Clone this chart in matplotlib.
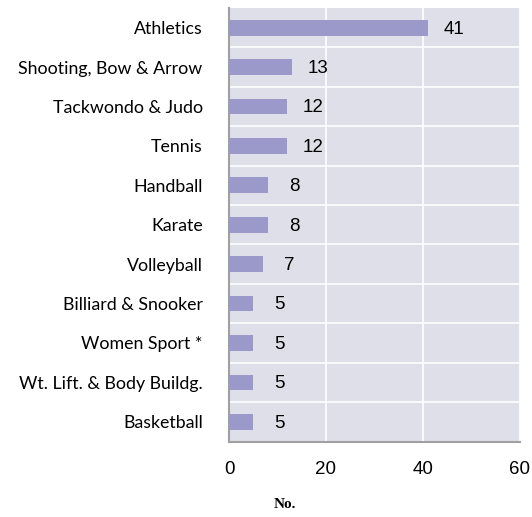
import matplotlib.pyplot as plt

sports = ['Athletics', 'Shooting, Bow & Arrow', 'Tackwondo & Judo', 'Tennis',
          'Handball', 'Karate', 'Volleyball', 'Billiard & Snooker',
          'Women Sport *', 'Wt. Lift. & Body Buildg.', 'Basketball']
counts = [41, 13, 12, 12, 8, 8, 7, 5, 5, 5, 5]
xticks = [0, 20, 40, 60]

fig = plt.figure(figsize=(5.32, 5.17), dpi=100)
ax = fig.add_axes([0.4305, 0.146, 0.5465, 0.8385])
ax.set_facecolor('#dfdfe9')

y = list(range(len(sports)))[::-1]
ax.barh(y, counts, height=0.4, color='#9a99c9', zorder=3)

for yi, c in zip(y, counts):
    ax.annotate(str(c), (c, yi), xytext=(19, -1), textcoords='offset points',
                ha='center', va='center', fontsize=13.5, family='Liberation Sans')

ax.set_xlim(0, 60)
ax.set_ylim(-0.5, len(sports) - 0.5)
ax.set_xticks(xticks)
ax.set_xticklabels([str(t) for t in xticks], fontsize=13.5, family='Liberation Sans')
ax.set_yticks(y)
ax.set_yticklabels(sports, fontsize=12.8, family='Lato')
ax.set_yticks([i + 0.5 for i in range(len(sports) - 1)], minor=True)
ax.tick_params(axis='both', length=0, which='both')
ax.tick_params(axis='y', pad=19)
ax.tick_params(axis='x', pad=14)

ax.grid(axis='x', color='white', lw=1.2, zorder=1)
ax.grid(axis='y', which='minor', color='white', lw=1.2, zorder=1)
ax.grid(axis='y', which='major', visible=False)

for s in ['top', 'right']:
    ax.spines[s].set_visible(False)
for s in ['left', 'bottom']:
    ax.spines[s].set_color('#a0a0a0')
    ax.spines[s].set_linewidth(1.5)

fig.text(285 / 532, 1 - 505 / 517, 'No.', ha='center', va='center',
         fontsize=11, fontweight='bold', family='Liberation Serif')

fig.savefig('out.png', dpi=100, facecolor='white')
